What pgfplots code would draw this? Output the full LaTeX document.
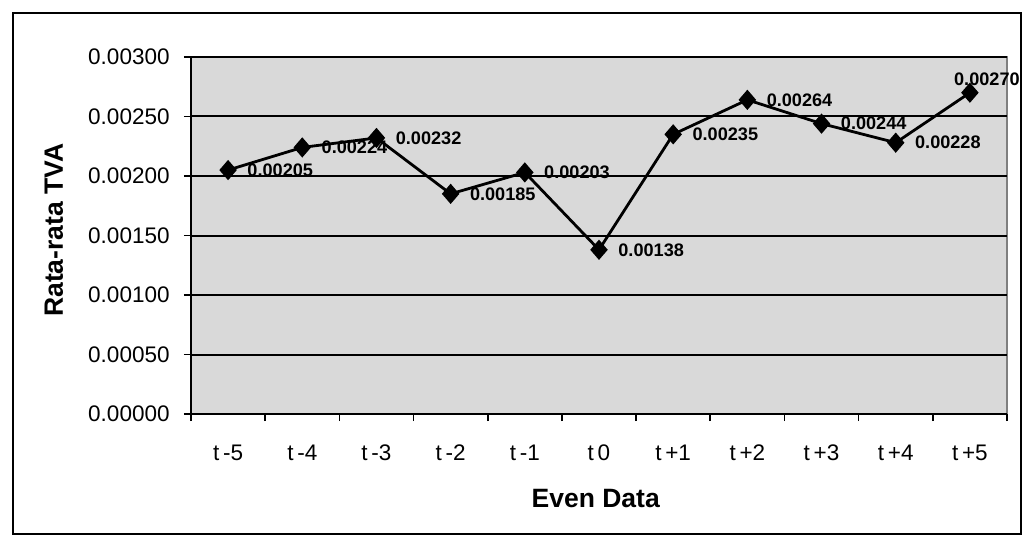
\documentclass[border=0pt]{standalone}
\usepackage{fontspec}
\setmainfont{Liberation Sans}
\usepackage{pgfplots}
\pgfplotsset{compat=1.18}
\usepackage{pgfplotstable}

\pgfplotstableread{
x y lab
0 0.00205 0.00205
1 0.00224 0.00224
2 0.00232 0.00232
3 0.00185 0.00185
4 0.00203 0.00203
5 0.00138 0.00138
6 0.00235 0.00235
7 0.00264 0.00264
8 0.00244 0.00244
9 0.00228 0.00228
10 0.00270 0.00270
}\datatable

\begin{document}
\begin{tikzpicture}
\useasboundingbox (-95.5bp,-64bp) rectangle (416.5bp,207bp);
\draw[line width=1bp] (-89bp,-60bp) rectangle (415bp,200.5bp);
\begin{axis}[
  at={(0,0)}, anchor=south west,
  scale only axis, width=408bp, height=178.5bp,
  xmin=-0.5, xmax=10.5, ymin=0, ymax=0.003,
  xtick={-0.5,0.5,1.5,2.5,3.5,4.5,5.5,6.5,7.5,8.5,9.5,10.5},
  x tick label as interval,
  xticklabels={t\,-5,t\,-4,t\,-3,t\,-2,t\,-1,t\,0,t\,+1,t\,+2,t\,+3,t\,+4,t\,+5},
  ytick={0,0.0005,0.001,0.0015,0.002,0.0025,0.003},
  yticklabels={0.00000,0.00050,0.00100,0.00150,0.00200,0.00250,0.00300},
  scaled y ticks=false,
  ymajorgrids, major grid style={black, line width=1bp},
  tick align=outside, major tick length=3.5bp,
  tick style={black, line width=0.8bp},
  axis x line*=bottom, axis y line*=left,
  axis line style={black, line width=1bp, -},
  axis background/.style={fill=black!15, draw=gray, line width=0.6bp},
  ticklabel style={font=\fontsize{11.3}{13}\selectfont},
  yticklabel style={anchor=east, inner sep=0pt, xshift=-7bp},
  xticklabel style={anchor=center, inner sep=0pt, yshift=-16bp},
  xlabel={Even Data}, ylabel={Rata-rata TVA},
  every axis x label/.style={at={(axis description cs:0.496,-0.238)}, anchor=center,
    font=\bfseries\fontsize{13.3}{15}\selectfont},
  every axis y label/.style={at={(axis description cs:-0.168,0.515)}, rotate=90, anchor=center,
    font=\bfseries\fontsize{13.3}{15}\selectfont},
  clip=false,
]
\addplot[black, line width=1.4bp, mark=diamond*, mark size=4bp,
  mark options={xscale=1.15, solid}] table[x=x, y=y] {\datatable};
\addplot[draw=none, mark=none, nodes near coords, point meta=explicit symbolic,
  skip coords between index={10}{11},
  every node near coord/.style={anchor=west, inner sep=0pt, xshift=9.5bp,
    font=\bfseries\fontsize{9.1}{10}\selectfont}]
  table[x=x, y=y, meta=lab] {\datatable};
\addplot[draw=none, mark=none, nodes near coords, point meta=explicit symbolic,
  skip coords between index={0}{10},
  every node near coord/.style={anchor=center, inner sep=0pt, xshift=8.5bp, yshift=6.5bp,
    font=\bfseries\fontsize{9.1}{10}\selectfont}]
  table[x=x, y=y, meta=lab] {\datatable};
\end{axis}
\end{tikzpicture}
\end{document}
